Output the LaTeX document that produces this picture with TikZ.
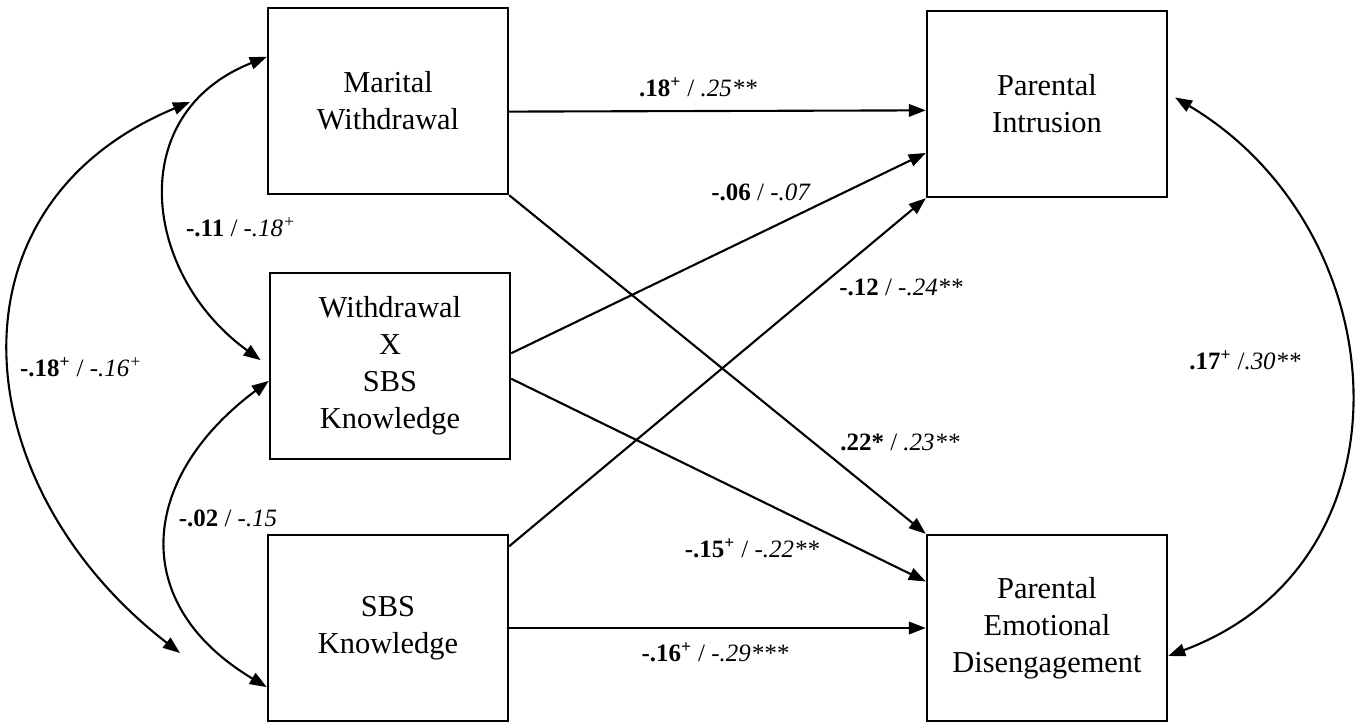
\documentclass[tikz,border=0pt]{standalone}
\usepackage{fontspec}
\setmainfont{Liberation Serif}
\usetikzlibrary{arrows.meta,calc}

\tikzset{
  var/.style={draw, line width=1.4pt, minimum width=4.8cm, minimum height=3.72cm,
    inner sep=0pt, align=center, font=\fontsize{17.3}{21}\selectfont},
  effect/.style={line width=1.2pt, -{Triangle[length=0.34cm,width=0.25cm]}},
  corr/.style={line width=1.2pt,
    {Triangle[length=0.34cm,width=0.25cm]}-{Triangle[length=0.34cm,width=0.25cm]}},
  coef/.style={inner sep=0pt, font=\fontsize{14.2}{17}\selectfont}
}

\begin{document}
\begin{tikzpicture}[x=0.02cm,y=-0.02cm]
\useasboundingbox (0,0) rectangle (1360,721);
% predictors
\node[var] (mw) at (388,101) {Marital\\Withdrawal};
\node[var] (wx) at (390,366) {Withdrawal\\X\\SBS\\Knowledge};
\node[var] (sbs) at (388,628) {SBS\\Knowledge};
% outcomes
\node[var] (pi) at (1047,104) {Parental\\Intrusion};
\node[var] (ped) at (1047,628) {Parental\\Emotional\\Disengagement};
% free ends of the long arc
\coordinate (ctop) at (190,102);
\coordinate (cbot) at (180,653);

% paths
\draw[effect] (mw.-5.2) -- (pi.183.8);
\draw[effect] (mw.south east) -- (ped.north west);
\draw[effect] (wx.6.2) -- (pi.202.4);
\draw[effect] (wx.-6.7) -- (ped.159.3);
\draw[effect] (sbs.34) -- (pi.south west);
\draw[effect] (sbs.east) -- (ped.west);

% correlations
\draw[corr, shorten >=0.2cm] (mw.160) .. controls ($(mw.160)+(-144,57)$) and ($(wx.west)+(-126,-91)$) .. (wx.west);
\draw[corr] (wx.187.6) .. controls ($(wx.187.6)+(-130,97)$) and ($(sbs.206.4)+(-139,-83)$) .. (sbs.206.4);
\draw[corr] (ctop) .. controls ($(ctop)+(-251,104)$) and ($(cbot)+(-216,-167)$) .. (cbot);
\draw[corr, shorten <=0.16cm] (pi.5) .. controls ($(pi.5)+(230,137)$) and ($(ped.-13.6)+(252,-94)$) .. (ped.-13.6);

% coefficients
\node[coef] (k1) at (698,87) {\textbf{.18\textsuperscript{+}} / \textit{.25**}};
\node[coef] (k2) at (761,192) {\textbf{-.06} / \textit{-.07}};
\node[coef] (k3) at (901,287) {\textbf{-.12} / \textit{-.24**}};
\node[coef] (k4) at (900,442) {\textbf{.22*} / \textit{.23**}};
\node[coef] (k5) at (752,548) {\textbf{-.15\textsuperscript{+}} / \textit{-.22**}};
\node[coef] (k6) at (715,652) {\textbf{-.16\textsuperscript{+}} / \textit{-.29***}};
\node[coef] (k7) at (1245,360) {\textbf{.17\textsuperscript{+}} /\textit{.30**}};
\node[coef] (k8) at (241,227) {\textbf{-.11} / \textit{-.18\textsuperscript{+}}};
\node[coef] (k9) at (81,367) {\textbf{-.18\textsuperscript{+}} / \textit{-.16\textsuperscript{+}}};
\node[coef] (k10) at (228,518) {\textbf{-.02} / \textit{-.15}};
\end{tikzpicture}
\end{document}
